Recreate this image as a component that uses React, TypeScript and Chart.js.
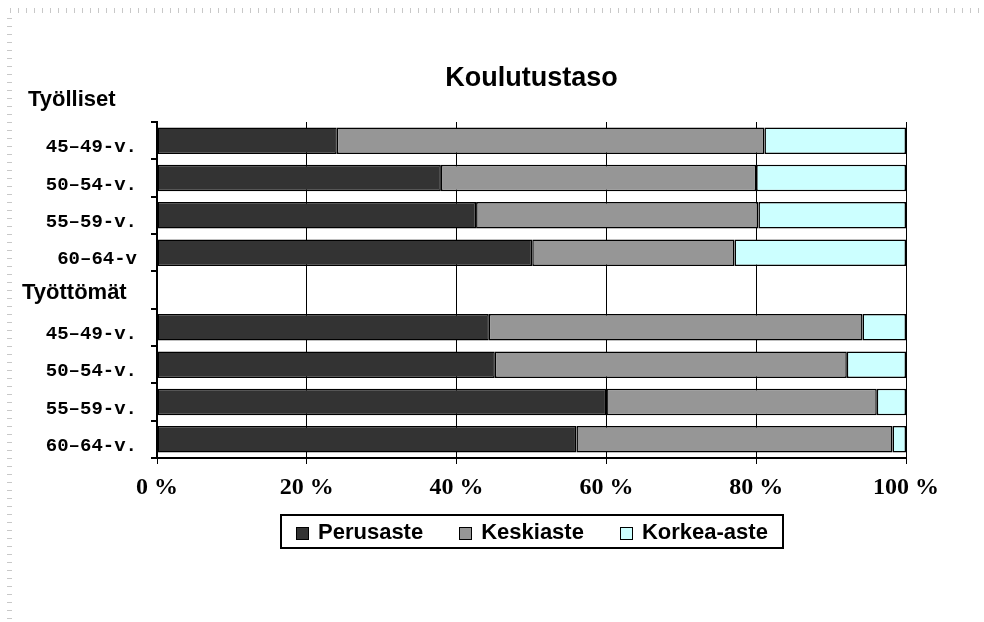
import React, { useEffect, useRef } from 'react';
import { Chart, registerables } from 'chart.js';

Chart.register(...registerables);

// ---------- data ----------
const title = 'Koulutustaso';
const categories = ['45–49-v.', '50–54-v.', '55–59-v.', '60–64-v', '', '45–49-v.', '50–54-v.', '55–59-v.', '60–64-v.'];
const perusaste = [24.0, 37.9, 42.6, 50.1, null, 44.3, 45.1, 60.0, 56.0];
const keskiaste = [57.1, 42.1, 37.7, 27.0, null, 49.9, 47.0, 36.1, 42.2];
const korkeaAste = [18.9, 20.0, 19.7, 22.9, null, 5.8, 7.9, 3.9, 1.8];
const seriesNames = ['Perusaste', 'Keskiaste', 'Korkea-aste'];
const seriesColors = ['#333333', '#969696', '#CCFFFF'];
const xTicks = [0, 20, 40, 60, 80, 100];
const groupLabels = ['Työlliset', 'Työttömät'];
const groupRows = [-1, 4];

const SANS = '"Liberation Sans", Arial, sans-serif';
const SERIF = '"Liberation Serif", "Times New Roman", serif';
const MONO = '"Liberation Mono", "Courier New", monospace';

const groupLabelPlugin = {
  id: 'groupLabels',
  afterDraw(chart: any) {
    const ctx = chart.ctx;
    const y = chart.scales.y;
    const band = y.getPixelForValue(1) - y.getPixelForValue(0);
    ctx.save();
    ctx.font = `bold 22px ${SANS}`;
    ctx.fillStyle = '#000';
    ctx.textAlign = 'left';
    ctx.textBaseline = 'middle';
    groupLabels.forEach((lbl, i) => {
      const row = groupRows[i];
      const py = row < 0 ? y.getPixelForValue(0) - band * 1.1 : y.getPixelForValue(row) + 3;
      const px = row < 0 ? 28 : 22;
      ctx.fillText(lbl, px, py);
    });
    ctx.restore();
  },
};

const boxedLegendPlugin = {
  id: 'boxedLegend',
  afterDraw(chart: any) {
    const ctx = chart.ctx;
    const area = chart.chartArea;
    const box = 12, gapText = 10, itemGap = 36, padX = 15;
    ctx.save();
    ctx.font = `bold 22px ${SANS}`;
    const items = chart.data.datasets.map((ds: any) => ({
      text: ds.label,
      color: ds.backgroundColor,
      w: ctx.measureText(ds.label).width,
    }));
    const totalW = items.reduce((s: number, it: any) => s + box + gapText + it.w, 0) + itemGap * (items.length - 1);
    const cx = (area.left + area.right) / 2;
    const frameW = Math.round(totalW + padX * 2);
    const frameL = Math.round(cx - frameW / 2);
    const frameT = Math.round(area.bottom + 57);
    const frameH = 33;
    ctx.lineWidth = 2;
    ctx.strokeStyle = '#000';
    ctx.strokeRect(frameL, frameT, frameW, frameH);
    const cy = frameT + frameH / 2 + 1;
    let x = frameL + padX;
    items.forEach((it: any) => {
      const bx = Math.round(x) + 0.5;
      const by = Math.round(cy - box / 2) + 0.5;
      ctx.fillStyle = it.color;
      ctx.fillRect(bx, by, box, box);
      ctx.lineWidth = 1;
      ctx.strokeStyle = '#000';
      ctx.strokeRect(bx, by, box, box);
      ctx.fillStyle = '#000';
      ctx.textAlign = 'left';
      ctx.textBaseline = 'middle';
      ctx.fillText(it.text, x + box + gapText, cy);
      x += box + gapText + it.w + itemGap;
    });
    ctx.restore();
  },
};

export default function App() {
  const canvasRef = useRef<HTMLCanvasElement | null>(null);

  useEffect(() => {
    if (!canvasRef.current) return;
    const seriesData = [perusaste, keskiaste, korkeaAste];
    const chart = new Chart(canvasRef.current, {
      type: 'bar',
      data: {
        labels: categories,
        datasets: seriesNames.map((name, i) => ({
          label: name,
          data: seriesData[i] as any,
          backgroundColor: seriesColors[i],
          borderColor: '#000',
          borderWidth: 1.5,
          borderSkipped: false,
          barPercentage: 0.71,
          categoryPercentage: 1,
        })),
      },
      options: {
        indexAxis: 'y',
        animation: false,
        responsive: true,
        maintainAspectRatio: false,
        layout: { padding: { top: 0, left: 0, right: 78, bottom: 114 } },
        plugins: {
          legend: { display: false },
          tooltip: { enabled: false },
          title: {
            display: true,
            fullSize: false,
            text: title,
            color: '#000',
            font: { family: SANS, size: 27, weight: 'bold' },
            padding: { top: 62, bottom: 27.6 },
          },
        },
        scales: {
          x: {
            stacked: true,
            min: 0,
            max: 100,
            afterBuildTicks: (s: any) => {
              s.ticks = xTicks.map((v) => ({ value: v }));
            },
            afterFit: (s: any) => {
              s.height = 50;
            },
            ticks: {
              color: '#000',
              padding: 9,
              maxRotation: 0,
              font: { family: SERIF, size: 24, weight: 'bold' },
              callback: (v: any) => `${v} %`,
            },
            grid: { color: '#000', lineWidth: 1, tickLength: 6, drawOnChartArea: true },
            border: { color: '#000', width: 2 },
          },
          y: {
            stacked: true,
            afterFit: (s: any) => {
              s.width = 157;
            },
            ticks: {
              color: '#000',
              padding: 14,
              labelOffset: 7,
              autoSkip: false,
              font: { family: MONO, size: 19, weight: 'bold' },
            },
            grid: { color: '#000', lineWidth: 2, tickLength: 6, drawOnChartArea: false, offset: true },
            border: { color: '#000', width: 2 },
          },
        },
      },
      plugins: [groupLabelPlugin, boxedLegendPlugin],
    });
    return () => chart.destroy();
  }, []);

  return (
    <div style={{ position: 'absolute', left: 0, top: 0, width: 984, height: 622, background: '#fff' }}>
      <div
        style={{
          position: 'absolute', left: 10, top: 8, width: 974, height: 5,
          backgroundImage: 'repeating-linear-gradient(to right, #c8c8c8 0px, #c8c8c8 1px, transparent 1px, transparent 8px)',
        }}
      />
      <div
        style={{
          position: 'absolute', left: 7, top: 18, width: 5, height: 604,
          backgroundImage: 'repeating-linear-gradient(to bottom, #c8c8c8 0px, #c8c8c8 1px, transparent 1px, transparent 8px)',
        }}
      />
      <div style={{ position: 'absolute', left: 0, top: 0, width: 984, height: 622 }}>
        <canvas ref={canvasRef} />
      </div>
    </div>
  );
}
